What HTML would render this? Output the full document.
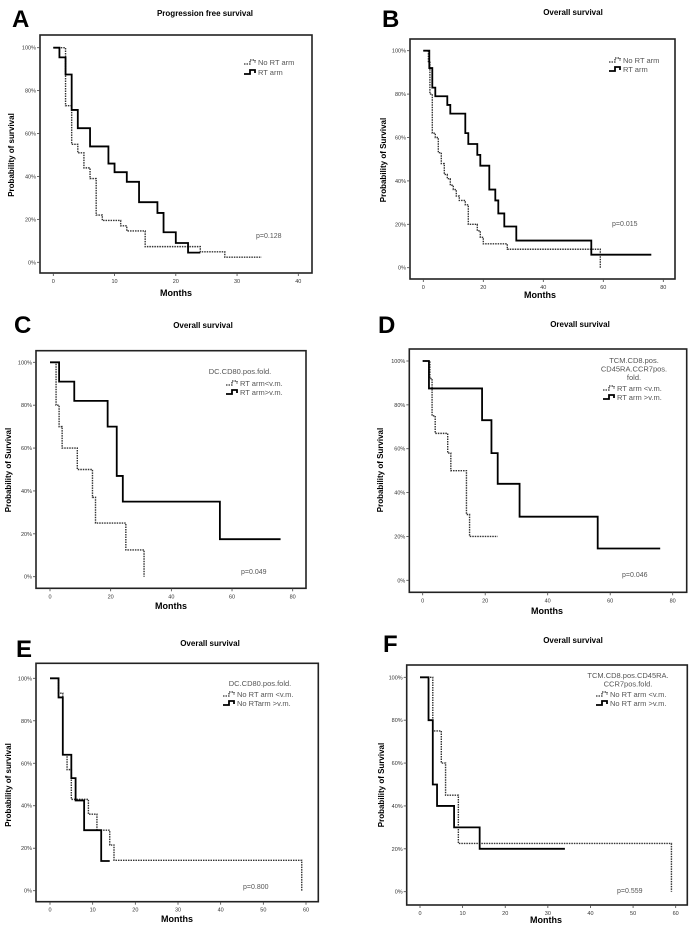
<!DOCTYPE html>
<html><head><meta charset="utf-8"><style>
body{margin:0;background:#fff;}
svg{display:block;font-family:"Liberation Sans",sans-serif;}
</style></head><body>
<svg id="fig" width="700" height="933" viewBox="0 0 700 933"></svg>
<script>
// Panel A - progression free survival
const aNoT=[0,2,3,4,5,6,7,8,11,12,15,24,28];
const aNoS=[1,0.73,0.55,0.51,0.44,0.39,0.22,0.195,0.17,0.146,0.073,0.049,0.024];
const aNoEnd=34;
const aRtT=[0,1,2,3,4,6,9,10,12,14,17,18,20,22];
const aRtS=[1,0.955,0.875,0.71,0.625,0.54,0.46,0.42,0.375,0.28,0.23,0.14,0.09,0.045];
const aRtEnd=24;
// Panel B
const bNoT=[0,1.7,2.2,3,4,5,6,7,8,9,10,11,12,14,15,18,19,20,28,59];
const bNoS=[1,0.95,0.80,0.62,0.60,0.53,0.48,0.43,0.41,0.38,0.36,0.33,0.31,0.29,0.20,0.17,0.14,0.11,0.085,0];
const bNoEnd=59;
const bRtT=[0,2,3,4,8,9,14,15,18,19,22,24,25,27,31,56];
const bRtS=[1,0.92,0.83,0.79,0.75,0.71,0.62,0.57,0.52,0.47,0.36,0.31,0.25,0.19,0.125,0.06];
const bRtEnd=76;
// Panel C
const cNoT=[0,2,3,4,9,14,15,25,31];
const cNoS=[1,0.80,0.70,0.60,0.50,0.37,0.25,0.125,0];
const cNoEnd=31;
const cRtT=[0,3,8,19,22,24,56];
const cRtS=[1,0.91,0.82,0.70,0.47,0.35,0.175];
const cRtEnd=76;
// Panel D
const dNoT=[0,2.3,3,4,8,9,14,15];
const dNoS=[1,0.92,0.75,0.67,0.58,0.50,0.30,0.20];
const dNoEnd=24;
const dRtT=[0,2,19,22,24,31,56];
const dRtS=[1,0.875,0.73,0.58,0.44,0.29,0.145];
const dRtEnd=76;
// Panel E
const eNoT=[0,2,3,4,5,9,11,14,15,59];
const eNoS=[1,0.93,0.64,0.57,0.43,0.36,0.285,0.215,0.143,0];
const eNoEnd=59;
const eRtT=[0,2,3,5,6,8,12];
const eRtS=[1,0.91,0.64,0.53,0.425,0.285,0.14];
const eRtEnd=14;
// Panel F
const fNoT=[0,3,5,6,9,59];
const fNoS=[1,0.75,0.60,0.45,0.225,0];
const fNoEnd=59;
const fRtT=[0,2,3,4,8,14];
const fRtS=[1,0.80,0.50,0.40,0.30,0.20];
const fRtEnd=34;
const yTicks=["0%","20%","40%","60%","80%","100%"];
const xTicks40=[0,10,20,30,40];
const xTicks60=[0,10,20,30,40,50,60];
const xTicks80=[0,20,40,60,80];

const NS="http://www.w3.org/2000/svg";
const svg=document.getElementById('fig');
function mk(tag,attrs,parent,text){const e=document.createElementNS(NS,tag);for(const k in attrs)e.setAttribute(k,attrs[k]);if(text!==undefined)e.textContent=text;(parent||svg).appendChild(e);return e;}

const panels=[
 {id:'a',L:'A',title:'Progression free survival',lx:12,ly:27,tx:205,ty:16,fr:[40,35,312,273],x0:53.3,x1:298.3,xmax:40,y100:47.7,y0:262.3,xt:xTicks40,
  ytitle:'Probability of survival',ytx:14,yty:155,mx:176,my:296,p:'p=0.128',px:256,py:238,
  head:[],hx:0,hy:0,ex:258,ey:[65,75],lines:['No RT arm','RT arm'],no:[aNoT,aNoS,aNoEnd],rt:[aRtT,aRtS,aRtEnd]},
 {id:'b',L:'B',title:'Overall survival',lx:382,ly:27,tx:573,ty:15,fr:[410,39,675,279],x0:423.3,x1:663.3,xmax:80,y100:50.7,y0:267.7,xt:xTicks80,
  ytitle:'Probability of Survival',ytx:386,yty:160,mx:540,my:298,p:'p=0.015',px:612,py:226,
  head:[],hx:0,hy:0,ex:623,ey:[63,72],lines:['No RT arm','RT arm'],no:[bNoT,bNoS,bNoEnd],rt:[bRtT,bRtS,bRtEnd]},
 {id:'c',L:'C',title:'Overall survival',lx:14,ly:333,tx:203,ty:328,fr:[36,350.7,306,588.3],x0:50,x1:292.7,xmax:80,y100:362.3,y0:576.7,xt:xTicks80,
  ytitle:'Probability of Survival',ytx:11,yty:470,mx:171,my:609,p:'p=0.049',px:241,py:574,
  head:['DC.CD80.pos.fold.'],hx:240,hy:374,ex:240,ey:[386,395],lines:['RT arm<v.m.',' RT arm>v.m.'],no:[cNoT,cNoS,cNoEnd],rt:[cRtT,cRtS,cRtEnd]},
 {id:'d',L:'D',title:'Orevall survival',lx:378,ly:333,tx:580,ty:327,fr:[409.3,349,686.7,592.3],x0:422.7,x1:672.7,xmax:80,y100:361,y0:580.3,xt:xTicks80,
  ytitle:'Probability of Survival',ytx:383,yty:470,mx:547,my:614,p:'p=0.046',px:622,py:577,
  head:['TCM.CD8.pos.','CD45RA.CCR7pos.','fold.'],hx:634,hy:363,ex:617,ey:[391,400],lines:[' RT arm <v.m.',' RT arm >v.m.'],no:[dNoT,dNoS,dNoEnd],rt:[dRtT,dRtS,dRtEnd]},
 {id:'e',L:'E',title:'Overall survival',lx:16,ly:657,tx:210,ty:646,fr:[36,663.3,318.3,901.7],x0:50,x1:306,xmax:60,y100:678.3,y0:890.7,xt:xTicks60,
  ytitle:'Probability of survival',ytx:11,yty:785,mx:177,my:922,p:'p=0.800',px:243,py:889,
  head:['DC.CD80.pos.fold.'],hx:260,hy:686,ex:237,ey:[697,706],lines:['No RT arm <v.m.','No RTarm >v.m.'],no:[eNoT,eNoS,eNoEnd],rt:[eRtT,eRtS,eRtEnd]},
 {id:'f',L:'F',title:'Overall survival',lx:383,ly:652,tx:573,ty:643,fr:[406.7,665,687.3,905],x0:420,x1:675.7,xmax:60,y100:677.3,y0:891.7,xt:xTicks60,
  ytitle:'Probability of Survival',ytx:384,yty:785,mx:546,my:923,p:'p=0.559',px:617,py:893,
  head:['TCM.CD8.pos.CD45RA.','CCR7pos.fold.'],hx:628,hy:678,ex:610,ey:[697,706],lines:['No RT arm <v.m.','No RT arm >v.m.'],no:[fNoT,fNoS,fNoEnd],rt:[fRtT,fRtS,fRtEnd]}
];

function stepPath(T,S,end,X,Y){
  let d='M'+X(T[0])+','+Y(S[0]);
  for(let i=1;i<T.length;i++){d+=' H'+X(T[i])+' V'+Y(S[i]);}
  d+=' H'+X(end);
  return d;
}

panels.forEach(p=>{
  const g=mk('g',{});
  
  
  const X=t=>p.x0+(p.x1-p.x0)*t/p.xmax;
  const Y=s=>p.y0+(p.y100-p.y0)*s;
  const lt=mk('text',{x:p.lx,y:p.ly,'font-size':24,'font-weight':'bold'},g,p.L);
  
  
  const tt=mk('text',{x:p.tx,y:p.ty,'font-size':8,'font-weight':'bold','text-anchor':'middle'},g,p.title);
  
  
  const fr=p.fr;
  const box=mk('rect',{x:fr[0],y:fr[1],width:fr[2]-fr[0],height:fr[3]-fr[1],fill:'none',stroke:'#222','stroke-width':1.6},g);
  
  
  yTicks.forEach((lab,i)=>{
    const y=Y(i/5);
    const tk=mk('line',{x1:fr[0]-3,x2:fr[0],y1:y,y2:y,stroke:'#444','stroke-width':0.8},g);
    
    
    const tl=mk('text',{x:fr[0]-4,y:y+2,'font-size':5.5,'text-anchor':'end',fill:'#333'},g,lab);
    
    
  });
  p.xt.forEach(v=>{
    const x=X(v);
    const tk=mk('line',{x1:x,x2:x,y1:fr[3],y2:fr[3]+3,stroke:'#444','stroke-width':0.8},g);
    
    
    const tl=mk('text',{x:x,y:fr[3]+10,'font-size':5.5,'text-anchor':'middle',fill:'#333'},g,String(v));
    
    
  });
  const mt=mk('text',{x:p.mx,y:p.my,'font-size':9,'font-weight':'bold','text-anchor':'middle'},g,'Months');
  
  
  const yt=mk('text',{x:p.ytx,y:p.yty,'font-size':8,'font-weight':'bold','text-anchor':'middle',transform:'rotate(-90 '+p.ytx+' '+p.yty+')'},g,p.ytitle);
  
  
  const l1=mk('path',{d:stepPath(p.no[0],p.no[1],p.no[2],X,Y),fill:'none',stroke:'#333','stroke-width':1.4,'stroke-dasharray':'1.5,1'},g);
  
  
  const l2=mk('path',{d:stepPath(p.rt[0],p.rt[1],p.rt[2],X,Y),fill:'none',stroke:'#000','stroke-width':1.8},g);
  
  
  p.head.forEach((h,i)=>{
    const ht=mk('text',{x:p.hx,y:p.hy+i*8.5,'font-size':7.5,'text-anchor':'middle',fill:'#555'},g,h);
    
    
  });
  p.lines.forEach((lab,i)=>{
    const y=p.ey[i];
    const sym=mk('path',{d:'M'+(p.ex-14)+','+(y-1)+' h6 v-4 h5 v3',fill:'none',stroke:i?'#000':'#333','stroke-width':i?1.8:1.3,'stroke-dasharray':i?'none':'1.5,1'},g);
    
    
    const et=mk('text',{x:p.ex,y:y,'font-size':7.5,fill:'#555'},g,lab);
    
    
  });
  const pt=mk('text',{x:p.px,y:p.py,'font-size':7,fill:'#555'},g,p.p);
  
  
});
</script>
</body></html>
